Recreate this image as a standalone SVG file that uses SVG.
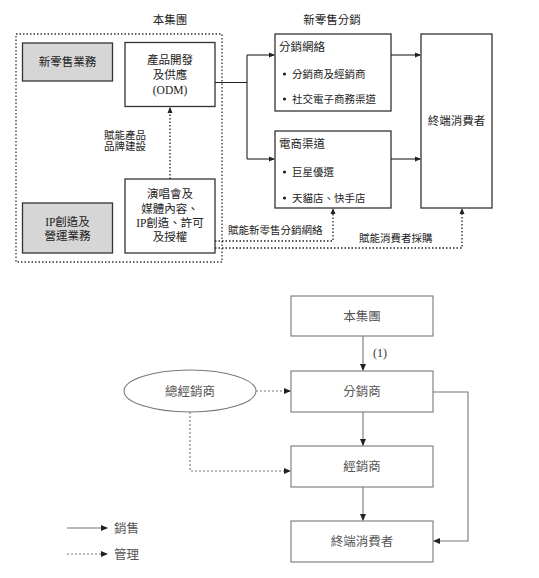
<svg xmlns="http://www.w3.org/2000/svg" width="539" height="578" viewBox="0 0 539 578">
<style>
text{font-family:"Liberation Serif","Noto Sans CJK TC",serif;fill:#222}
.t{font-size:11.5px}
.s{font-size:10.5px}
.b{font-size:12.5px;fill:#555}
.box{fill:#fff;stroke:#333;stroke-width:1.3}
.gray{fill:#d6d6d6;stroke:#333;stroke-width:1.3}
.ln{fill:none;stroke:#222;stroke-width:1.1}
.dot{fill:none;stroke:#222;stroke-width:1.3;stroke-dasharray:1.5 2}
.bbox{fill:#fff;stroke:#777;stroke-width:1.1}
.bln{fill:none;stroke:#777;stroke-width:1.1}
.bdot{fill:none;stroke:#777;stroke-width:1.1;stroke-dasharray:2 2}
</style>
<defs>
<marker id="a" markerWidth="6" markerHeight="6" refX="5" refY="3" orient="auto" markerUnits="userSpaceOnUse"><path d="M0,0.5 L6,3 L0,5.5 z" fill="#222"/></marker>
<marker id="g" markerWidth="7" markerHeight="7" refX="6" refY="3.5" orient="auto" markerUnits="userSpaceOnUse"><path d="M0,0.5 L7,3.5 L0,6.5 z" fill="#222"/></marker>
</defs>

<text class="t" x="170" y="24" text-anchor="middle">本集團</text>
<text class="t" x="332" y="24" text-anchor="middle">新零售分銷</text>
<rect x="16" y="34" width="206" height="228" fill="none" stroke="#333" stroke-width="1.3" stroke-dasharray="1.5 2"/>

<g id="retail"><rect class="gray" x="22.5" y="43" width="90" height="38"/><text class="t" x="67.5" y="66" text-anchor="middle">新零售業務</text></g>
<g id="odm"><rect class="box" x="125" y="42.5" width="90" height="64"/>
<text class="t" x="170" y="64" text-anchor="middle">產品開發</text><text class="t" x="170" y="79" text-anchor="middle">及供應</text><text class="t" x="170" y="94" text-anchor="middle">(ODM)</text></g>
<g id="ip"><rect class="gray" x="22.5" y="203" width="90" height="50"/>
<text class="t" x="67.5" y="226" text-anchor="middle">IP創造及</text><text class="t" x="67.5" y="240" text-anchor="middle">營運業務</text></g>
<g id="concert"><rect class="box" x="125" y="179" width="90" height="74"/>
<text class="t" x="170" y="198" text-anchor="middle">演唱會及</text><text class="t" x="170" y="213" text-anchor="middle">媒體內容、</text><text class="t" x="170" y="227" text-anchor="middle">IP創造、許可</text><text class="t" x="170" y="241" text-anchor="middle">及授權</text></g>
<g id="dist"><rect class="box" x="275" y="34" width="116" height="77"/>
<text class="t" x="279" y="51">分銷網絡</text>
<circle cx="284.5" cy="74" r="1.6" fill="#222"/><text class="s" x="292" y="78">分銷商及經銷商</text>
<circle cx="284.5" cy="99" r="1.6" fill="#222"/><text class="s" x="292" y="103">社交電子商務渠道</text></g>
<g id="ecom"><rect class="box" x="275" y="131" width="116" height="77"/>
<text class="t" x="279" y="148">電商渠道</text>
<circle cx="284.5" cy="172" r="1.6" fill="#222"/><text class="s" x="292" y="176">巨星優選</text>
<circle cx="284.5" cy="198" r="1.6" fill="#222"/><text class="s" x="292" y="202">天貓店、快手店</text></g>
<g id="consumer"><rect class="box" x="421" y="34" width="71" height="174"/><text class="t" x="456.5" y="125" text-anchor="middle">終端消費者</text></g>

<g id="connectors">
<path class="ln" d="M215,82.5 H247 M247,55 V159"/>
<path class="ln" d="M247,55 H274" marker-end="url(#a)"/>
<path class="ln" d="M247,159 H274" marker-end="url(#a)"/>
<path class="ln" d="M391,55 H420" marker-end="url(#a)"/>
<path class="ln" d="M391,159 H420" marker-end="url(#a)"/>
<path class="dot" d="M170,179 V108" marker-end="url(#a)"/>
<path class="dot" d="M215,241 H333 V209" marker-end="url(#a)"/>
<path class="dot" d="M215,248 H462 V209" marker-end="url(#a)"/>
</g>
<text class="s" x="125" y="139" text-anchor="middle">賦能產品</text>
<text class="s" x="125" y="150" text-anchor="middle">品牌建設</text>
<text class="s" x="228" y="234">賦能新零售分銷網絡</text>
<text class="s" x="359" y="242">賦能消費者採購</text>

<g id="group"><rect class="bbox" x="291" y="296" width="142" height="40"/><text class="b" x="362" y="320.5" text-anchor="middle">本集團</text></g>
<g id="distributor"><rect class="bbox" x="291" y="371" width="142" height="41"/><text class="b" x="362" y="396" text-anchor="middle">分銷商</text></g>
<g id="dealer"><rect class="bbox" x="291" y="446" width="142" height="41"/><text class="b" x="362" y="471" text-anchor="middle">經銷商</text></g>
<g id="end"><rect class="bbox" x="291" y="521" width="142" height="41"/><text class="b" x="362" y="546" text-anchor="middle">終端消費者</text></g>
<g id="general"><ellipse cx="190" cy="391" rx="66" ry="21" fill="#fff" stroke="#777" stroke-width="1.1"/><text class="b" x="190" y="395.5" text-anchor="middle">總經銷商</text></g>

<g id="connectors2">
<path class="bln" d="M363,336 V370" marker-end="url(#g)"/>
<path class="bln" d="M363,412 V445" marker-end="url(#g)"/>
<path class="bln" d="M363,487 V520" marker-end="url(#g)"/>
<path class="bln" d="M433,392 H468 V541 H434" marker-end="url(#g)"/>
<path class="bdot" d="M256,391 H290" marker-end="url(#g)"/>
<path class="bdot" d="M190,412 V471 H290" marker-end="url(#g)"/>
<path class="bln" d="M67,528 H107" marker-end="url(#g)"/>
<path class="bdot" d="M67,554 H107" marker-end="url(#g)"/>
</g>
<text x="380" y="357" text-anchor="middle" style="font-size:12px;fill:#333">(1)</text>
<text class="b" x="114" y="532.5">銷售</text>
<text class="b" x="114" y="558.5">管理</text>
</svg>
